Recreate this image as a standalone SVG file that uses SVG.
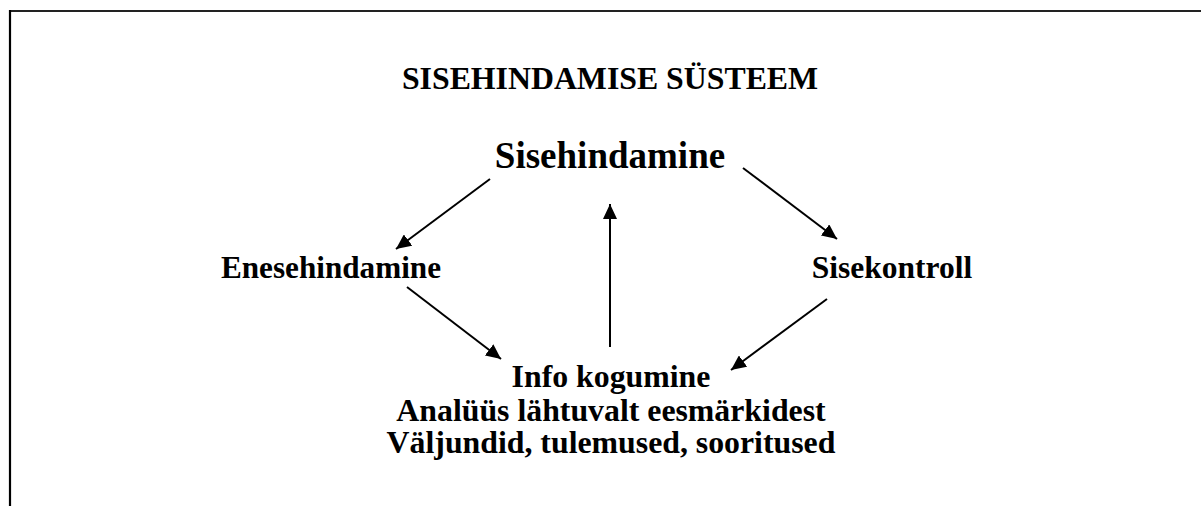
<svg xmlns="http://www.w3.org/2000/svg" width="1201" height="506" viewBox="0 0 1201 506">
<style>
.t{font-family:"Liberation Serif","Times New Roman",serif;font-weight:bold;fill:#000;text-anchor:middle}
.c{stroke:#000;stroke-width:2;fill:none}
</style>
<defs>
<marker id="ah" markerUnits="userSpaceOnUse" markerWidth="16" markerHeight="14" refX="15" refY="7" orient="auto">
<path d="M0,0 L15,7 L0,14 z" fill="#000"/>
</marker>
</defs>
<rect width="1201" height="506" fill="#fff"/>
<g id="frame">
<line x1="9" y1="11" x2="1201" y2="11" stroke="#222" stroke-width="2.2"/>
<line x1="10" y1="10" x2="10" y2="506" stroke="#000" stroke-width="2.2"/>
</g>
<g id="title"><text class="t" x="610" y="89" font-size="31.8">SISEHINDAMISE SÜSTEEM</text></g>
<g id="sisehindamine"><text class="t" x="610" y="168" font-size="37">Sisehindamine</text></g>
<g id="enesehindamine"><text class="t" x="331" y="278" font-size="31.2">Enesehindamine</text></g>
<g id="sisekontroll"><text class="t" x="892" y="278" font-size="31.5">Sisekontroll</text></g>
<g id="info">
<text class="t" x="611" y="387" font-size="31.8">Info kogumine</text>
<text class="t" x="611" y="421" font-size="31.8">Analüüs lähtuvalt eesmärkidest</text>
<text class="t" x="611" y="453" font-size="31.8">Väljundid, tulemused, sooritused</text>
</g>
<g id="connectors" class="c">
<line x1="490" y1="179" x2="396" y2="249" marker-end="url(#ah)"/>
<line x1="407" y1="287" x2="501" y2="359" marker-end="url(#ah)"/>
<line x1="610" y1="347" x2="610" y2="204" marker-end="url(#ah)"/>
<line x1="743" y1="168" x2="837" y2="239" marker-end="url(#ah)"/>
<line x1="827" y1="299" x2="731" y2="370" marker-end="url(#ah)"/>
</g>
</svg>
